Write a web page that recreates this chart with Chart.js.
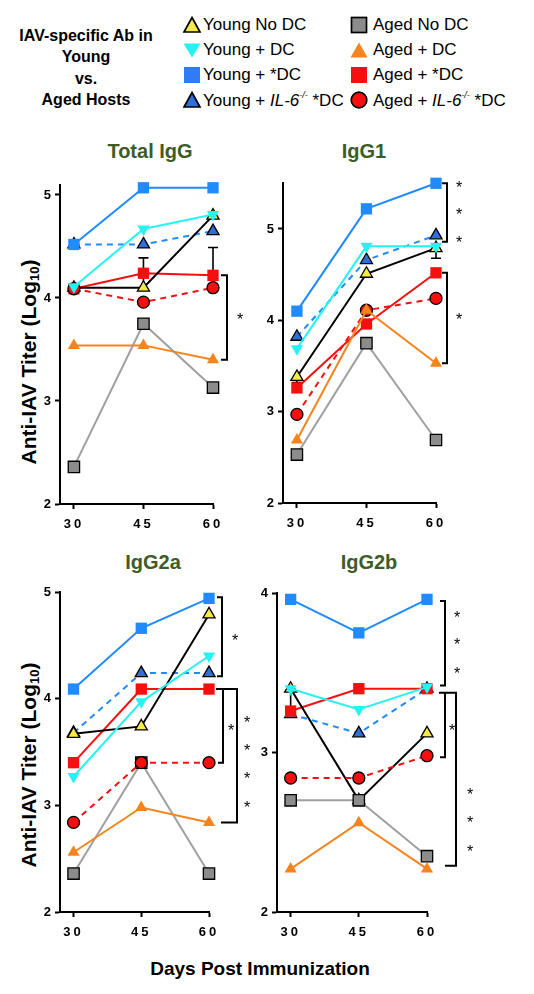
<!DOCTYPE html>
<html>
<head>
<meta charset="utf-8">
<script src="https://cdn.jsdelivr.net/npm/chart.js@4.4.1/dist/chart.umd.min.js"></script>
<style>
  body { margin: 0; background: #fff; font-family: "Liberation Sans", Arial, sans-serif; }
  #page { position: relative; width: 534px; height: 994px; overflow: hidden; }
  canvas { position: absolute; }
  .t { position: absolute; white-space: nowrap; color: #000; }
  .ptitle { font-weight: bold; font-size: 20px; color: #3d5c27; transform: translate(-50%, -50%); }
  .ytitle { font-weight: bold; font-size: 21px; transform: translate(-50%, -50%) rotate(-90deg); }
  .ytitle sub { font-size: 13px; vertical-align: -3px; }
  .lgtitle { left: 0; width: 172px; top: 25px; text-align: center; font-weight: bold; font-size: 16px; line-height: 21.3px; }
  .lg { font-size: 17px; transform: translateY(-50%); }
  .lg sup { font-size: 9px; vertical-align: 8px; }
  .mk { position: absolute; transform: translate(-50%, -50%); }
</style>
</head>
<body>
<div id="page">
  <div class="t lgtitle">IAV-specific Ab in<br>Young<br>vs.<br>Aged Hosts</div>

  <svg class="mk" style="left:192px;top:25px" width="19" height="19"><polygon points="9.5,2 17.5,16.5 1.5,16.5" fill="#f7e94a" stroke="#000" stroke-width="1.7"/></svg>
  <div class="t lg" style="left:203px;top:25px">Young No DC</div>
  <svg class="mk" style="left:192px;top:50px" width="19" height="19"><polygon points="1,3 18,3 9.5,17" fill="#27f2f2"/></svg>
  <div class="t lg" style="left:203px;top:50px">Young + DC</div>
  <svg class="mk" style="left:192px;top:75px" width="19" height="19"><rect x="1.5" y="1.5" width="16" height="16" fill="#2f7cf6"/></svg>
  <div class="t lg" style="left:203px;top:75px">Young + *DC</div>
  <svg class="mk" style="left:192px;top:100px" width="19" height="19"><polygon points="9.5,2 17.5,16.5 1.5,16.5" fill="#2f6fd8" stroke="#000" stroke-width="1.7"/></svg>
  <div class="t lg" style="left:203px;top:100px">Young + <i>IL-6<sup>-/-</sup></i> *DC</div>

  <svg class="mk" style="left:359px;top:25px" width="19" height="19"><rect x="2" y="2" width="15" height="15" fill="#8c8c8c" stroke="#000" stroke-width="1.7"/></svg>
  <div class="t lg" style="left:373px;top:25px">Aged No DC</div>
  <svg class="mk" style="left:359px;top:50px" width="19" height="19"><polygon points="9.5,2 18,17 1,17" fill="#f5841f"/></svg>
  <div class="t lg" style="left:373px;top:50px">Aged + DC</div>
  <svg class="mk" style="left:359px;top:75px" width="19" height="19"><rect x="1.5" y="1.5" width="16" height="16" fill="#f50f0f"/></svg>
  <div class="t lg" style="left:373px;top:75px">Aged + *DC</div>
  <svg class="mk" style="left:359px;top:100px" width="19" height="19"><circle cx="9.5" cy="9.5" r="7.8" fill="#f50f0f" stroke="#000" stroke-width="1.7"/></svg>
  <div class="t lg" style="left:373px;top:100px">Aged + <i>IL-6<sup>-/-</sup></i> *DC</div>

  <div class="t ptitle" style="left:150px;top:151px">Total IgG</div>
  <div class="t ptitle" style="left:364px;top:151px">IgG1</div>
  <div class="t ptitle" style="left:153px;top:562px">IgG2a</div>
  <div class="t ptitle" style="left:369px;top:562px">IgG2b</div>

  <div class="t ytitle" style="left:29px;top:362px">Anti-IAV Titer (Log<sub>10</sub>)</div>
  <div class="t ytitle" style="left:29px;top:765px">Anti-IAV Titer (Log<sub>10</sub>)</div>
  <div class="t" style="left:260px;top:969px;transform:translate(-50%,-50%);font-weight:bold;font-size:19px">Days Post Immunization</div>

  <canvas id="c1" width="267" height="380" style="left:0;top:170px"></canvas>
  <canvas id="c2" width="279" height="380" style="left:255px;top:170px"></canvas>
  <canvas id="c3" width="267" height="380" style="left:0;top:575px"></canvas>
  <canvas id="c4" width="279" height="380" style="left:255px;top:575px"></canvas>
</div>

<script>
// x values (days post immunization)
const days = [30, 45, 60];

// Total IgG
const totYoungNoDC   = [4.10, 4.10, 4.80];
const totYoungDC     = [4.11, 4.67, 4.81];
const totYoungStarDC = [4.52, 5.07, 5.07];
const totYoungIL6    = [4.52, 4.52, 4.65];
const totAgedNoDC    = [2.36, 3.75, 3.13];
const totAgedDC      = [3.54, 3.54, 3.40];
const totAgedStarDC  = [4.09, 4.24, 4.22];
const totAgedIL6     = [4.09, 3.96, 4.10];

// IgG1
const g1YoungNoDC   = [3.38, 4.51, 4.79];
const g1YoungDC     = [3.69, 4.81, 4.81];
const g1YoungStarDC = [4.10, 5.22, 5.50];
const g1YoungIL6    = [3.82, 4.66, 4.93];
const g1AgedNoDC    = [2.53, 3.75, 2.69];
const g1AgedDC      = [2.69, 4.11, 3.53];
const g1AgedStarDC  = [3.26, 3.96, 4.52];
const g1AgedIL6     = [2.97, 4.11, 4.24];

// IgG2a
const g2aYoungNoDC   = [3.67, 3.74, 4.79];
const g2aYoungDC     = [3.27, 3.97, 4.40];
const g2aYoungStarDC = [4.09, 4.66, 4.94];
const g2aYoungIL6    = [3.68, 4.24, 4.24];
const g2aAgedNoDC    = [2.36, 3.40, 2.36];
const g2aAgedDC      = [2.56, 2.98, 2.84];
const g2aAgedStarDC  = [3.40, 4.09, 4.09];
const g2aAgedIL6     = [2.84, 3.40, 3.40];

// IgG2b
const g2bYoungNoDC   = [3.40, 2.70, 3.12];
const g2bYoungDC     = [3.40, 3.27, 3.41];
const g2bYoungStarDC = [3.96, 3.75, 3.96];
const g2bYoungIL6    = [3.24, 3.12, 3.40];
const g2bAgedNoDC    = [2.70, 2.70, 2.35];
const g2bAgedDC      = [2.27, 2.56, 2.27];
const g2bAgedStarDC  = [3.26, 3.40, 3.40];
const g2bAgedIL6     = [2.84, 2.84, 2.98];

// y tick labels
const ticksTot = [2, 3, 4, 5];
const ticksG1  = [2, 3, 4, 5];
const ticksG2a = [2, 3, 4, 5];
const ticksG2b = [2, 3, 4];

// error bars: [day, from, to]
const errTot = [[45, 4.10, 4.39], [60, 4.22, 4.49]];
const errG1  = [[60, 4.79, 4.68], [30, 3.38, 3.32]];
const errG2a = [];
const errG2b = [[30, 3.40, 3.28]];

// significance brackets: [x offset from axis end, top, bottom, top tick start, bottom tick start]
const brTot = [[14, 4.22, 3.40, 8, 8]];
const brG1  = [[11, 5.50, 4.86, 6, 6], [11, 4.52, 3.53, 6, 6]];
const brG2a = [[13, 4.95, 4.21, 8, 8], [14, 4.09, 3.40, 14, 9], [28, 4.09, 2.84, 7, 12]];
const brG2b = [[18, 3.95, 3.42, 13, 13], [18, 3.375, 2.97, 18, 13], [29, 3.375, 2.29, 12, 18]];

// stars: [x offset, value]
const stTot = [[27, 3.81]];
const stG1  = [[23, 5.48], [23, 5.18], [23, 4.87], [23, 4.03]];
const stG2a = [[26, 4.56], [22, 3.72], [38, 3.79], [38, 3.53], [38, 3.27], [38, 3.00]];
const stG2b = [[30, 3.86], [30, 3.69], [30, 3.51], [25, 3.15], [43, 2.75], [43, 2.57], [43, 2.39]];

const FONT = '"Liberation Sans", Arial, sans-serif';
const blue = '#1f8bff';

function series(vals, look) {
  return Object.assign({
    data: vals.map((v, i) => ({x: days[i], y: v})),
    borderWidth: 2, pointBorderWidth: 1.3, clip: false, tension: 0
  }, look);
}

function makePanel(id, canvasBox, area, ymin, ymax, yticks, sets, errs, brackets, stars) {
  const H = canvasBox.top + canvasBox.height - area.bottom;
  const W = area.left - canvasBox.left;

  const overlay = {
    id: 'overlay' + id,
    beforeDraw(chart) { chart.ctx.letterSpacing = '3px'; },
    beforeDatasetsDraw(chart) {
      const ctx = chart.ctx, xs = chart.scales.x, ys = chart.scales.y;
      ctx.save();
      ctx.letterSpacing = '0px';
      ctx.strokeStyle = '#000';
      ctx.lineWidth = 1.6;
      errs.forEach(([d, a, b]) => {
        const x = xs.getPixelForValue(d);
        const y0 = ys.getPixelForValue(a), y1 = ys.getPixelForValue(b);
        ctx.beginPath();
        ctx.moveTo(x, y0); ctx.lineTo(x, y1);
        ctx.moveTo(x - 5, y1); ctx.lineTo(x + 5, y1);
        ctx.stroke();
      });
      ctx.restore();
    },
    afterDraw(chart) {
      const ctx = chart.ctx, ys = chart.scales.y;
      const r = chart.chartArea.right;
      ctx.save();
      ctx.letterSpacing = '0px';
      ctx.strokeStyle = '#000';
      ctx.lineWidth = 2;
      brackets.forEach(([dx, top, bot, t0, b0]) => {
        const yt = ys.getPixelForValue(top), yb = ys.getPixelForValue(bot);
        ctx.beginPath();
        ctx.moveTo(r + t0, yt); ctx.lineTo(r + dx, yt);
        ctx.lineTo(r + dx, yb); ctx.lineTo(r + b0, yb);
        ctx.stroke();
      });
      ctx.fillStyle = '#000';
      ctx.font = '16px ' + FONT;
      ctx.textAlign = 'center';
      ctx.textBaseline = 'middle';
      stars.forEach(([dx, v]) => {
        ctx.fillText('*', r + dx, ys.getPixelForValue(v) + 3);
      });
      ctx.restore();
    }
  };

  const tickFont = {family: FONT, size: 13, weight: 'bold'};

  return new Chart(document.getElementById(id), {
    type: 'line',
    data: {datasets: sets},
    options: {
      responsive: false,
      animation: false,
      devicePixelRatio: 1,
      layout: {padding: {
        left: 0,
        top: area.top - canvasBox.top,
        right: canvasBox.left + canvasBox.width - area.right,
        bottom: 0
      }},
      plugins: {legend: {display: false}, tooltip: {enabled: false}},
      scales: {
        x: {
          type: 'linear', min: 27, max: 60,
          afterBuildTicks: s => { s.ticks = days.map(v => ({value: v})); },
          afterFit: s => { s.height = H; },
          grid: {drawOnChartArea: false, drawTicks: true, tickLength: 5, tickWidth: 2, tickColor: '#000'},
          border: {display: true, color: '#000', width: 2},
          ticks: {color: '#000', font: tickFont, padding: 8, maxRotation: 0, autoSkip: false}
        },
        y: {
          min: ymin, max: ymax,
          afterBuildTicks: s => { s.ticks = yticks.map(v => ({value: v})); },
          afterFit: s => { s.width = W; },
          grid: {drawOnChartArea: false, drawTicks: true, tickLength: 5, tickWidth: 2, tickColor: '#000'},
          border: {display: true, color: '#000', width: 2},
          ticks: {color: '#000', font: tickFont, padding: 1}
        }
      }
    },
    plugins: [overlay]
  });
}

// styles of the eight groups (first dataset drawn on top)
function groupSets(yNo, yDC, yStar, yIL6, aNo, aDC, aStar, aIL6) {
  return [
    series(yDC,   {label: 'Young + DC', borderColor: '#27f2f2', backgroundColor: '#27f2f2', pointStyle: 'triangle', pointRotation: 180, pointRadius: 7, pointBorderWidth: 0}),
    series(yStar, {label: 'Young + *DC', borderColor: blue, backgroundColor: blue, pointStyle: 'rect', pointRadius: 8, pointBorderWidth: 0}),
    series(aDC,   {label: 'Aged + DC', borderColor: '#f5841f', backgroundColor: '#f5841f', pointStyle: 'triangle', pointRadius: 7, pointBorderWidth: 0}),
    series(aIL6,  {label: 'Aged + IL-6-/- *DC', borderColor: '#f50f0f', borderDash: [6, 5], backgroundColor: '#f50f0f', pointStyle: 'circle', pointRadius: 6, pointBorderColor: '#000'}),
    series(aNo,   {label: 'Aged No DC', borderColor: '#a0a0a0', backgroundColor: '#8c8c8c', pointStyle: 'rect', pointRadius: 8, pointBorderColor: '#000'}),
    series(yNo,   {label: 'Young No DC', borderColor: '#000', backgroundColor: '#f7e94a', pointStyle: 'triangle', pointRadius: 7, pointBorderColor: '#000'}),
    series(aStar, {label: 'Aged + *DC', borderColor: '#f50f0f', backgroundColor: '#f50f0f', pointStyle: 'rect', pointRadius: 8, pointBorderWidth: 0}),
    series(yIL6,  {label: 'Young + IL-6-/- *DC', borderColor: blue, borderDash: [6, 5], backgroundColor: '#2f6fd8', pointStyle: 'triangle', pointRadius: 7, pointBorderColor: '#000'})
  ];
}

makePanel('c1', {left: 0, top: 170, width: 267, height: 380}, {left: 60, top: 184.7, right: 213, bottom: 504},
  2, 5.1, ticksTot,
  groupSets(totYoungNoDC, totYoungDC, totYoungStarDC, totYoungIL6, totAgedNoDC, totAgedDC, totAgedStarDC, totAgedIL6),
  errTot, brTot, stTot);

makePanel('c2', {left: 255, top: 170, width: 279, height: 380}, {left: 283, top: 183.3, right: 436, bottom: 503},
  2, 5.5, ticksG1,
  groupSets(g1YoungNoDC, g1YoungDC, g1YoungStarDC, g1YoungIL6, g1AgedNoDC, g1AgedDC, g1AgedStarDC, g1AgedIL6),
  errG1, brG1, stG1);

makePanel('c3', {left: 0, top: 575, width: 267, height: 380}, {left: 60, top: 592, right: 209, bottom: 912},
  2, 5, ticksG2a,
  groupSets(g2aYoungNoDC, g2aYoungDC, g2aYoungStarDC, g2aYoungIL6, g2aAgedNoDC, g2aAgedDC, g2aAgedStarDC, g2aAgedIL6),
  errG2a, brG2a, stG2a);

makePanel('c4', {left: 255, top: 575, width: 279, height: 380}, {left: 277, top: 593, right: 427, bottom: 912},
  2, 4, ticksG2b,
  groupSets(g2bYoungNoDC, g2bYoungDC, g2bYoungStarDC, g2bYoungIL6, g2bAgedNoDC, g2bAgedDC, g2bAgedStarDC, g2bAgedIL6),
  errG2b, brG2b, stG2b);
</script>
</body>
</html>
